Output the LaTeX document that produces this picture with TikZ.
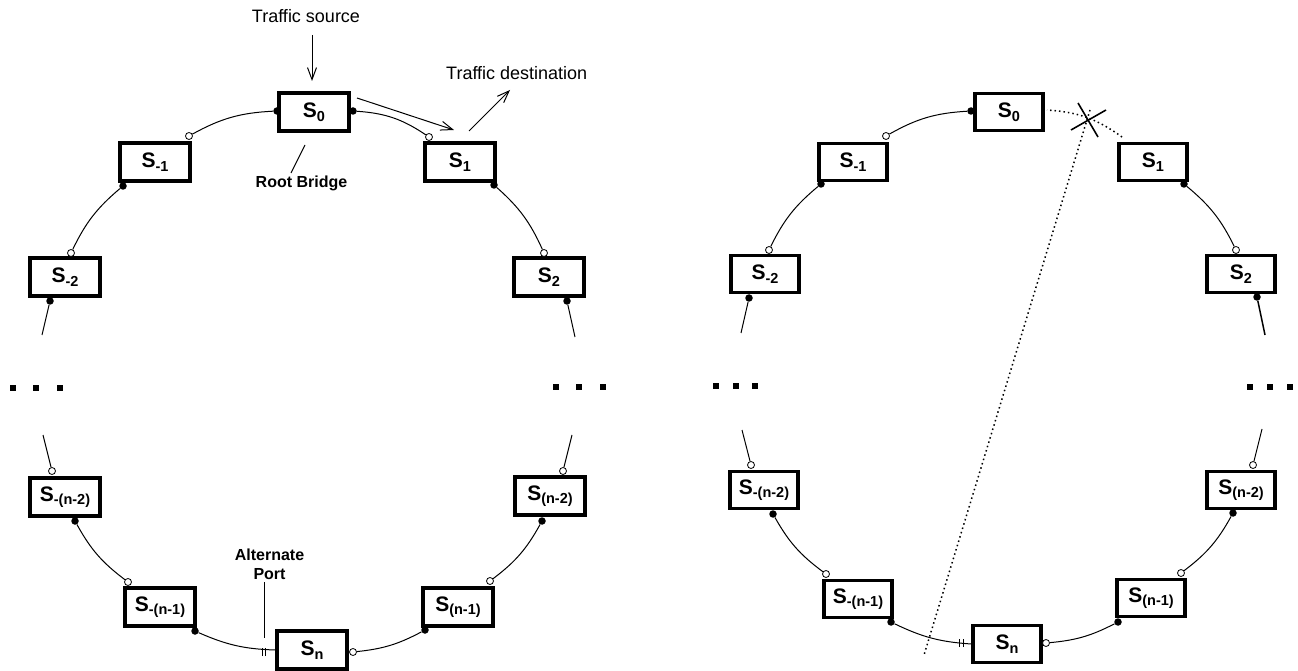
\documentclass[tikz,border=0pt]{standalone}
\usepackage{fontspec}
\setmainfont{Liberation Sans}
\usetikzlibrary{arrows.meta}
\newcommand{\swsub}[1]{S\raisebox{-3.5pt}{\fontsize{14.5}{16}\selectfont #1}}

\begin{document}
\begin{tikzpicture}[x=1pt,y=1pt,
  swbox/.style={draw, line width=3.6pt, fill=white, minimum width=69.5pt, minimum height=38.5pt, inner sep=0pt, font=\bfseries\fontsize{21}{24}\selectfont},
  swboxr/.style={swbox, minimum width=68pt, minimum height=37pt},
  fport/.style={circle, fill=black, inner sep=0pt, minimum size=7.5pt},
  oport/.style={circle, draw=black, fill=white, line width=0.8pt, inner sep=0pt, minimum size=7pt},
  link/.style={line width=1pt},
  deadlink/.style={line width=1.5pt, dash pattern=on 1.5pt off 3pt},
  arr/.style={line width=1pt, -{Straight Barb[length=12pt,width=9pt]}},
  lbl/.style={font=\fontsize{18}{21}\selectfont, inner sep=0pt},
  blbl/.style={font=\bfseries\fontsize{16}{18.5}\selectfont, inner sep=0pt, align=center},
  ellip/.style={fill=black, minimum size=6pt, inner sep=0pt},
  tick/.style={line width=1pt}
]
\fill[white] (0,0) rectangle (1298,670);
\useasboundingbox (0,0) rectangle (1298,670);

% ---------------- ring with traffic (left) ----------------
\node[swbox] (S0L)  at (314,558) {\swsub{0}};
\node[swbox] (S1L)  at (460,508) {\swsub{1}};
\node[swbox] (Sm1L) at (155,508) {\swsub{-1}};
\node[swbox] (Sm2L) at (65,393)  {\swsub{-2}};
\node[swbox] (S2L)  at (549,393) {\swsub{2}};
\node[swbox] (Smn2L) at (65,173) {\swsub{-(n-2)}};
\node[swbox] (Sn2L) at (550,174) {\swsub{(n-2)}};
\node[swbox] (Smn1L) at (160,63) {\swsub{-(n-1)}};
\node[swbox] (Sn1L) at (458,63)  {\swsub{(n-1)}};
\node[swbox] (SnL)  at (312,20)  {\swsub{n}};

% ports
\node[fport] (aL0w)  at (277,559) {};
\node[fport] (aL0e)  at (353,559) {};
\node[oport] (aL1nw) at (429,533) {};
\node[fport] (aL1se) at (494,485) {};
\node[oport] (aLm1ne) at (189,534) {};
\node[fport] (aLm1sw) at (123,484) {};
\node[oport] (aLm2n) at (71,417) {};
\node[fport] (aLm2s) at (50,369) {};
\node[oport] (aLmn2n) at (52,199) {};
\node[fport] (aLmn2s) at (75,149) {};
\node[oport] (aLmn1nw) at (128,88) {};
\node[fport] (aLmn1se) at (195,39) {};
\node[oport] (aLnE)  at (353,18) {};
\node[fport] (aLn1sw) at (425,40) {};
\node[oport] (aLn1ne) at (490,89) {};
\node[fport] (aLn2s) at (542,149) {};
\node[oport] (aLn2n) at (563,199) {};
\node[fport] (aL2s)  at (567,369) {};
\node[oport] (aL2n)  at (544,417) {};

\coordinate (eLa) at (42,335);
\coordinate (eLb) at (43,235);
\coordinate (eLc) at (572,235);
\coordinate (eLd) at (575,333);
\coordinate (altL) at (264,18);

% links
\draw[link] (aL0w) to[bend right=13] (aLm1ne);
\draw[link] (aLm1sw) to[bend right=12] (aLm2n);
\draw[link] (aLm2s) -- (eLa);
\draw[link] (eLb) -- (aLmn2n);
\draw[link] (aLmn2s) to[bend right=12] (aLmn1nw);
\draw[link] (aLmn1se) to[bend right=11] (SnL.west);
\draw[link] (aLnE) to[bend right=11] (aLn1sw);
\draw[link] (aLn1ne) to[bend right=12] (aLn2s);
\draw[link] (aLn2n) -- (eLc);
\draw[link] (eLd) -- (aL2s);
\draw[link] (aL2n) to[bend right=12] (aL1se);
\draw[link] (aL1nw) to[bend right=15] (aL0e);

% alternate port mark
\draw[tick] ([xshift=-1.7pt,yshift=-4pt]altL) -- ([xshift=-1.7pt,yshift=4pt]altL);
\draw[tick] ([xshift=1.7pt,yshift=-4pt]altL) -- ([xshift=1.7pt,yshift=4pt]altL);

% continuation marks
\node[ellip] (dL1) at (13,282) {};
\node[ellip] (dL2) at (36,282) {};
\node[ellip] (dL3) at (60,282) {};
\node[ellip] (dL4) at (556,283) {};
\node[ellip] (dL5) at (579,283) {};
\node[ellip] (dL6) at (603,283) {};

% labels and pointers
\node[lbl, anchor=base] (src) at (306,647) {Traffic source};
\coordinate (srcA) at (312,635);
\coordinate (srcB) at (312,589);
\draw[arr] (srcA) -- (srcB);

\node[lbl, anchor=base west] (dst) at (446,590) {Traffic destination};
\coordinate (dstA) at (469,539);
\coordinate (dstB) at (510,580);
\draw[arr] (dstA) -- (dstB);

\coordinate (flowA) at (357,572);
\coordinate (flowB) at (454,540);
\draw[arr] (flowA) -- (flowB);

\node[blbl, anchor=base] (root) at (301.5,482) {Root Bridge};
\coordinate (rootA) at (305,525);
\coordinate (rootB) at (291,497);
\draw[link] (rootA) -- (rootB);

\node[blbl, anchor=north] (altlbl) at (269.5,121) {Alternate\\Port};
\coordinate (altA) at (264.5,88);
\coordinate (altB) at (264.5,32);
\draw[link] (altA) -- (altB);

% ---------------- ring after link failure (right) ----------------
\node[swboxr] (S0R)  at (1009,558) {\swsub{0}};
\node[swboxr] (S1R)  at (1153,508) {\swsub{1}};
\node[swboxr] (Sm1R) at (853,508)  {\swsub{-1}};
\node[swboxr] (S2R)  at (1241,396) {\swsub{2}};
\node[swboxr] (Sm2R) at (765,396)  {\swsub{-2}};
\node[swboxr] (Sn2R) at (1241,180) {\swsub{(n-2)}};
\node[swboxr] (Smn2R) at (764,180) {\swsub{-(n-2)}};
\node[swboxr] (Sn1R) at (1151,72)  {\swsub{(n-1)}};
\node[swboxr] (Smn1R) at (858,71)  {\swsub{-(n-1)}};
\node[swboxr] (SnR)  at (1007,26)  {\swsub{n}};

\node[fport] (aR0w)  at (971,559) {};
\node[oport] (aRm1ne) at (886,534) {};
\node[fport] (aRm1sw) at (821,486) {};
\node[oport] (aRm2n) at (769,420) {};
\node[fport] (aRm2s) at (749,372) {};
\node[oport] (aRmn2n) at (751,205) {};
\node[fport] (aRmn2s) at (773,156) {};
\node[oport] (aRmn1nw) at (826,96) {};
\node[fport] (aRmn1se) at (891,48) {};
\node[oport] (aRnE)  at (1046,27) {};
\node[fport] (aRn1sw) at (1118,48) {};
\node[oport] (aRn1ne) at (1181,97) {};
\node[fport] (aRn2s) at (1233,157) {};
\node[oport] (aRn2n) at (1253,205) {};
\node[fport] (aR2s)  at (1257,373) {};
\node[oport] (aR2n)  at (1236,420) {};
\node[fport] (aR1se) at (1184,486) {};

\coordinate (eRa) at (741,337);
\coordinate (eRb) at (742,240);
\coordinate (eRc) at (1262,241);
\coordinate (eRd) at (1265,335);
\coordinate (altR) at (961.5,27);
\coordinate (cutA) at (1122,533);
\coordinate (cutB) at (1047,560);

\draw[link] (aR0w) to[bend right=13] (aRm1ne);
\draw[link] (aRm1sw) to[bend right=12] (aRm2n);
\draw[link] (aRm2s) -- (eRa);
\draw[link] (eRb) -- (aRmn2n);
\draw[link] (aRmn2s) to[bend right=12] (aRmn1nw);
\draw[link] (aRmn1se) to[bend right=11] (SnR.west);
\draw[link] (aRnE) to[bend right=11] (aRn1sw);
\draw[link] (aRn1ne) to[bend right=12] (aRn2s);
\draw[link] (aRn2n) -- (eRc);
\draw[line width=1.5pt] (eRd) -- (aR2s);
\draw[link] (aR2n) to[bend right=12] (aR1se);

% failed link
\draw[deadlink] (cutA) to[bend right=16] (cutB);
\coordinate (xA) at (1071,540);
\coordinate (xB) at (1106,560);
\coordinate (xC) at (1078,567);
\coordinate (xD) at (1098,533);
\draw[line width=1.6pt] (xA) -- (xB);
\draw[line width=1.6pt] (xC) -- (xD);
\coordinate (splitA) at (1090,560);
\coordinate (splitB) at (924,15);
\draw[deadlink] (splitA) -- (splitB);

\draw[tick] ([xshift=-1.7pt,yshift=-4pt]altR) -- ([xshift=-1.7pt,yshift=4pt]altR);
\draw[tick] ([xshift=1.7pt,yshift=-4pt]altR) -- ([xshift=1.7pt,yshift=4pt]altR);

\node[ellip] (dR1) at (716,284) {};
\node[ellip] (dR2) at (736,284) {};
\node[ellip] (dR3) at (755,284) {};
\node[ellip] (dR4) at (1250,283) {};
\node[ellip] (dR5) at (1270,283) {};
\node[ellip] (dR6) at (1290,283) {};
\end{tikzpicture}
\end{document}
